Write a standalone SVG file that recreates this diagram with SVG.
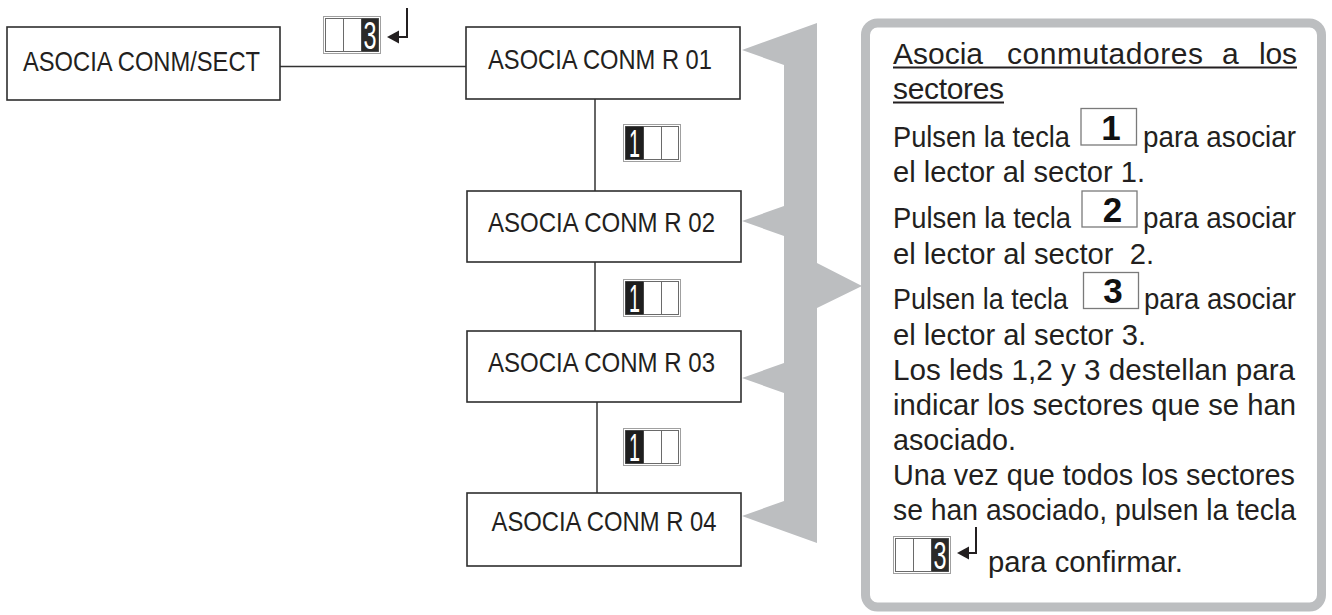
<svg xmlns="http://www.w3.org/2000/svg" width="1332" height="615" viewBox="0 0 1332 615">
<style>
.box{fill:#fff;stroke:#2e2e2e;stroke-width:1.6}
.lbl{font-family:"Liberation Sans",Arial,sans-serif;font-size:28px;fill:#231f20}
.con{stroke:#333;stroke-width:1.5;fill:none}
.txt{font-family:"Liberation Sans",Arial,sans-serif;font-size:30px;fill:#231f20}
.ttl{font-family:"Liberation Sans",Arial,sans-serif;font-size:30px;fill:#231f20}
.kbox{fill:#fff;stroke:#7a7a7a;stroke-width:1.3}
.kdig{font-family:"Liberation Sans",Arial,sans-serif;font-size:35px;font-weight:bold;fill:#111;text-anchor:middle}
.dig{font-family:"Liberation Sans",Arial,sans-serif;font-size:38px;fill:#fff;text-anchor:middle}
.ret{stroke:#231f20;stroke-width:2;fill:none}
</style>
<defs>
<g id="frame">
<rect x="0.5" y="0.5" width="57" height="37" fill="#fff" stroke="#a0a0a0" stroke-width="1"/>
<rect x="2.5" y="2.5" width="53" height="33" fill="none" stroke="#6a6a6a" stroke-width="1"/>
<line x1="20.5" y1="2.5" x2="20.5" y2="35.5" stroke="#6a6a6a" stroke-width="1"/>
<line x1="38.5" y1="2.5" x2="38.5" y2="35.5" stroke="#6a6a6a" stroke-width="1"/>
</g>
<g id="key1">
<use href="#frame"/>
<rect x="2.5" y="2.5" width="18" height="33" fill="#1e1e1e"/>
<text class="dig" x="11.5" y="33" textLength="11" lengthAdjust="spacingAndGlyphs">1</text>
</g>
<g id="key3">
<use href="#frame"/>
<rect x="38.5" y="2.5" width="17" height="33" fill="#2a2a2a"/>
<text class="dig" x="47" y="33" textLength="13" lengthAdjust="spacingAndGlyphs">3</text>
</g>
</defs>

<g id="connectors">
<line class="con" x1="280" y1="66.5" x2="466" y2="66.5"/>
<line class="con" x1="595" y1="99" x2="595" y2="191"/>
<line class="con" x1="595" y1="262" x2="595" y2="331"/>
<line class="con" x1="597" y1="402" x2="597" y2="493"/>
<path fill="#bcbec0" d="M742,50 L817,23 L817,263 L862,286 L817,308 L817,543 L742,516 L784,501 L784,393 L742,378 L784,363 L784,236 L742,221 L784,206 L784,65 Z"/>
</g>

<g id="key-top">
<use href="#key3" x="323" y="16"/>
<path class="ret" d="M407,8 V37 H397"/>
<polygon points="387,37 399,30.5 399,43.5" fill="#231f20"/>
</g>
<g id="key-12"><use href="#key1" x="623" y="124"/></g>
<g id="key-23"><use href="#key1" x="623" y="279"/></g>
<g id="key-34"><use href="#key1" x="623" y="428"/></g>

<g id="node-sect">
<rect class="box" x="7" y="27" width="273" height="73"/>
<text class="lbl" x="23" y="70.5" textLength="237" lengthAdjust="spacingAndGlyphs">ASOCIA CONM/SECT</text>
</g>
<g id="node-r01">
<rect class="box" x="466" y="27" width="274" height="72"/>
<text class="lbl" x="488" y="68.5" textLength="224" lengthAdjust="spacingAndGlyphs">ASOCIA CONM R 01</text>
</g>
<g id="node-r02">
<rect class="box" x="467" y="191" width="274" height="71"/>
<text class="lbl" x="488" y="231.5" textLength="227" lengthAdjust="spacingAndGlyphs">ASOCIA CONM R 02</text>
</g>
<g id="node-r03">
<rect class="box" x="467" y="331" width="274" height="71"/>
<text class="lbl" x="488" y="371.5" textLength="227" lengthAdjust="spacingAndGlyphs">ASOCIA CONM R 03</text>
</g>
<g id="node-r04">
<rect class="box" x="467" y="493" width="274" height="73"/>
<text class="lbl" x="491.5" y="530.5" textLength="225" lengthAdjust="spacingAndGlyphs">ASOCIA CONM R 04</text>
</g>

<g id="panel">
<rect x="865.5" y="23" width="456" height="584" rx="12" ry="12" fill="#fff" stroke="#bcbec0" stroke-width="9"/>
<text class="ttl" y="63.5"><tspan x="893" textLength="90">Asocia</tspan><tspan x="1007" textLength="196">conmutadores</tspan><tspan x="1222">a</tspan><tspan x="1259" textLength="38">los</tspan></text>
<line x1="893" y1="67.5" x2="1297" y2="67.5" stroke="#231f20" stroke-width="2"/>
<text class="ttl" x="893" y="98.5" textLength="111">sectores</text>
<line x1="893" y1="102.5" x2="1004" y2="102.5" stroke="#231f20" stroke-width="2"/>

<text class="txt" x="893" y="146.5" textLength="177" lengthAdjust="spacingAndGlyphs">Pulsen la tecla</text>
<rect class="kbox" x="1081" y="108.5" width="55.5" height="36.5"/>
<text class="kdig" x="1111" y="140">1</text>
<text class="txt" x="1143" y="146.5" textLength="153" lengthAdjust="spacingAndGlyphs">para asociar</text>
<text class="txt" x="893" y="181.5" textLength="252" lengthAdjust="spacingAndGlyphs">el lector al sector 1.</text>

<text class="txt" x="893" y="228" textLength="178" lengthAdjust="spacingAndGlyphs">Pulsen la tecla</text>
<rect class="kbox" x="1082" y="191" width="55" height="36"/>
<text class="kdig" x="1112.5" y="221.5">2</text>
<text class="txt" x="1143" y="228" textLength="153" lengthAdjust="spacingAndGlyphs">para asociar</text>
<text class="txt" x="893" y="263.5" textLength="261" lengthAdjust="spacingAndGlyphs" xml:space="preserve">el lector al sector  2.</text>

<text class="txt" x="893" y="309" textLength="175" lengthAdjust="spacingAndGlyphs">Pulsen la tecla</text>
<rect class="kbox" x="1083.5" y="272.5" width="55" height="36"/>
<text class="kdig" x="1113" y="302.5">3</text>
<text class="txt" x="1144" y="309" textLength="152" lengthAdjust="spacingAndGlyphs">para asociar</text>
<text class="txt" x="893" y="345" textLength="253" lengthAdjust="spacingAndGlyphs">el lector al sector 3.</text>

<text class="txt" x="893" y="380" textLength="402" lengthAdjust="spacingAndGlyphs">Los leds 1,2 y 3 destellan para</text>
<text class="txt" x="893" y="415" textLength="403" lengthAdjust="spacingAndGlyphs">indicar los sectores que se han</text>
<text class="txt" x="893" y="450" textLength="123" lengthAdjust="spacingAndGlyphs">asociado.</text>
<text class="txt" x="893" y="485" textLength="402" lengthAdjust="spacingAndGlyphs">Una vez que todos los sectores</text>
<text class="txt" x="893" y="520" textLength="403" lengthAdjust="spacingAndGlyphs">se han asociado, pulsen la tecla</text>

<use href="#key3" x="893" y="536"/>
<path class="ret" d="M976,527 V553 H966"/>
<polygon points="957,553 969,546.5 969,559.5" fill="#231f20"/>
<text class="txt" x="988" y="571.5" textLength="195" lengthAdjust="spacingAndGlyphs">para confirmar.</text>
</g>
</svg>
